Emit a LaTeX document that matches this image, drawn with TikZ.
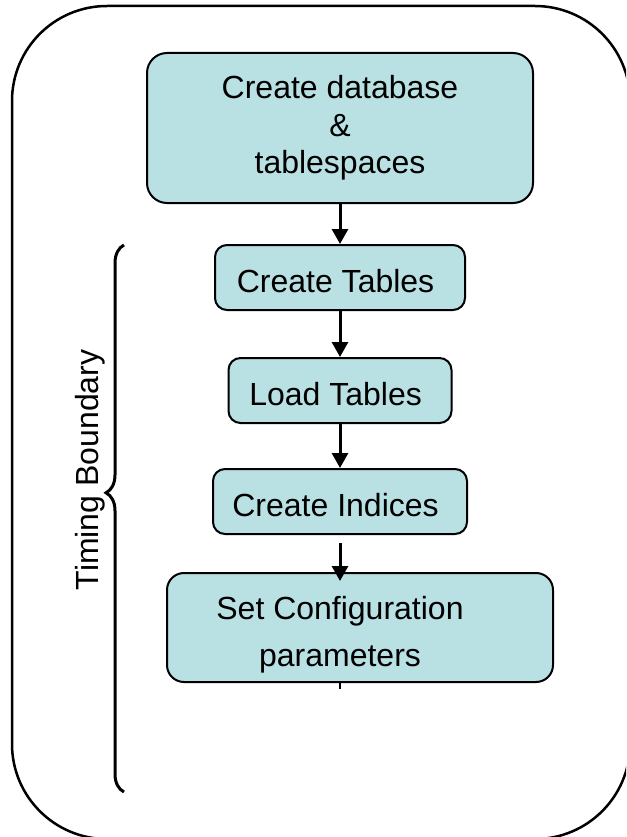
\documentclass[tikz,border=0pt]{standalone}
\usepackage{fontspec}
\setmainfont{Liberation Sans}
\usetikzlibrary{arrows.meta,decorations.pathreplacing}
\definecolor{boxfill}{RGB}{185,224,227}
\tikzset{
	stepbox/.style={shape=rectangle, rounded corners=12pt, draw, line width=2pt, fill=boxfill, align=center, inner sep=0pt, font=\fontsize{32}{37.5}\selectfont},
	onerow/.style={stepbox, minimum height=65pt, text height=29pt, text depth=0pt},
	flow/.style={-{Triangle[width=16pt,length=15pt]}, line width=3pt},
}
\begin{document}
\begin{tikzpicture}[x=1pt, y=-1pt]
			\useasboundingbox (0,0) rectangle (626,837);
			\clip (0,0) rectangle (626,837);
			\draw[line width=2.5pt, rounded corners=95pt] (12,6) rectangle (630,839);

			\node (db)[stepbox, rounded corners=20pt, minimum width=386pt, minimum height=150pt] 
			at (340,128){
				Create database \\ \& \\ tablespaces
			}; 

			\node (ctab)[onerow, minimum width=250pt] 
			at (340,277.5){
				Create Tables
			}; 

			\node (ltab)[onerow, minimum width=223pt] 
			at (340,390.5){
				Load Tables
			}; 

			\node (cidx)[onerow, minimum width=254pt] 
			at (340,501.5){
				Create Indices
			}; 

			\node (conf)[stepbox, rounded corners=17pt, minimum width=386pt, minimum height=109pt] 
			at (360,627.5) {};
			\node (conftxt)[align=center, font=\fontsize{32}{37.5}\selectfont] 
			at (340,635){
				Set Configuration \\[9.5pt] parameters
			};

			\node (tb)[rotate=90, font=\fontsize{32}{37.5}\selectfont] at (90,470) {Timing Boundary};

			\coordinate (bbot) at (124,792);
			\coordinate (btop) at (124,245);
			\draw[line width=3pt, decorate, decoration={brace, amplitude=18pt, aspect=0.547}] (bbot) -- (btop);

			\path (cidx.south |- conf.north) ++(0,9) coordinate (tip);
			\path[flow] (db) edge (ctab);
			\path[flow] (ctab) edge (ltab);
			\path[flow] (ltab) edge (cidx);
			\draw[flow] ([yshift=-8pt]cidx.south) -- (tip);
			\draw[line width=2pt] (conf.south -| cidx.south) -- ++(0,6);
		\end{tikzpicture}
\end{document}
